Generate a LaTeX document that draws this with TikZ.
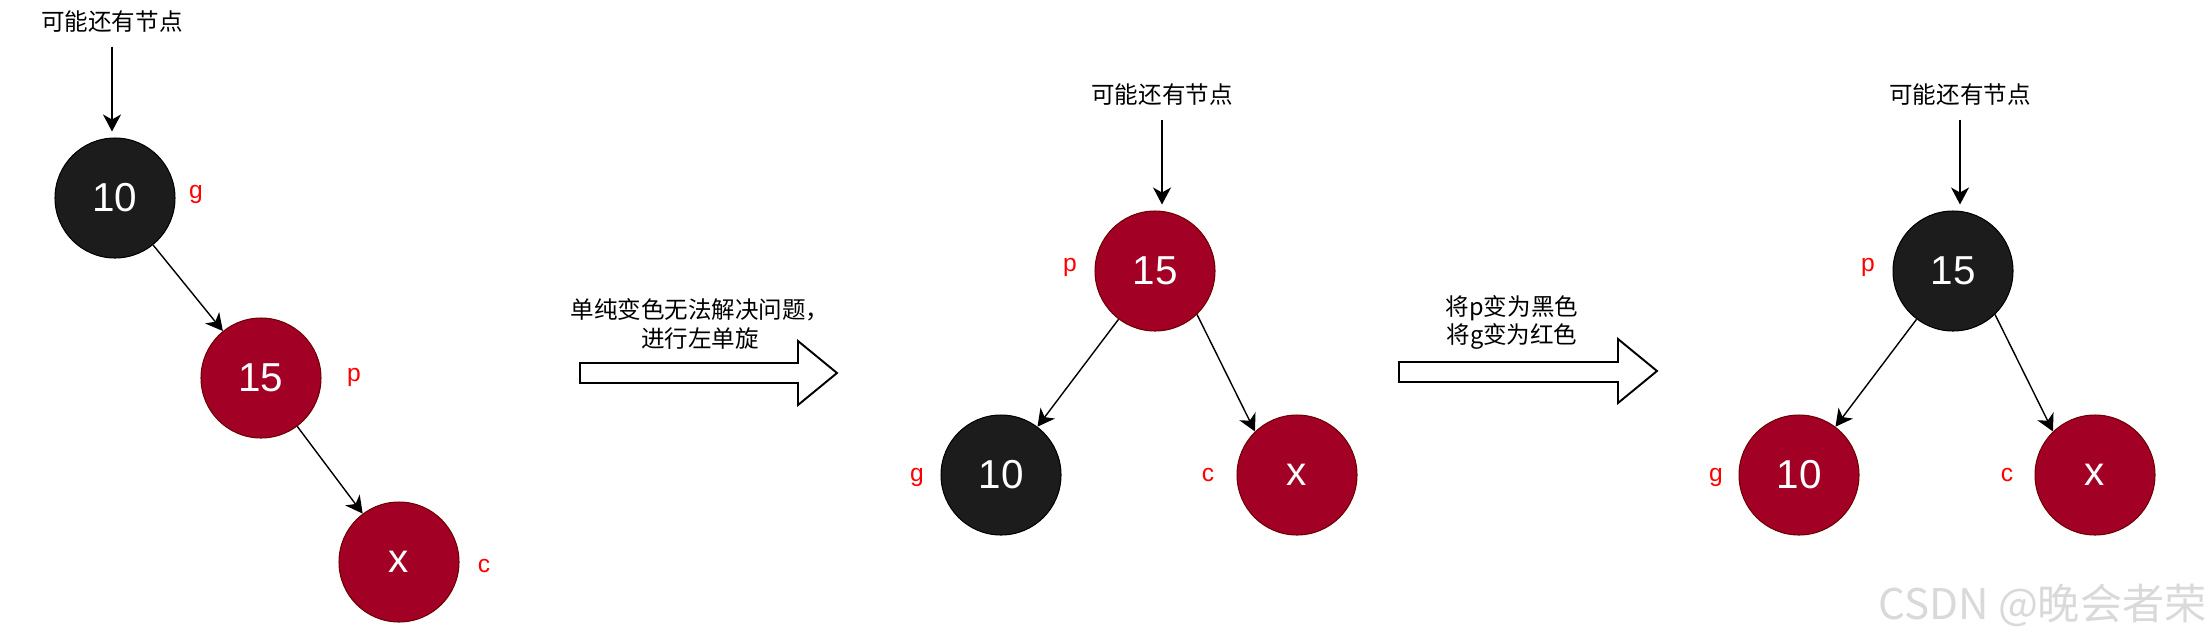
\documentclass[tikz,border=0pt]{standalone}
\usepackage{fontspec}
\setmainfont{Liberation Sans}
\newfontfamily\cjk{Noto Sans CJK SC}
\usetikzlibrary{positioning,arrows.meta}
\definecolor{rbblack}{RGB}{28,28,28}
\definecolor{rbred}{HTML}{A20025}
\definecolor{rbredline}{HTML}{6F0000}
\tikzset{
  rbnode/.style={circle,minimum size=2.4cm,inner sep=0pt,text=white,
                 font=\fontsize{23}{26}\selectfont,line width=0.6pt},
  blknode/.style={rbnode,fill=rbblack,draw=black},
  rednode/.style={rbnode,fill=rbred,draw=rbredline},
  tag/.style={text=red,font=\fontsize{14}{16}\selectfont},
  note/.style={font=\cjk\fontsize{13.4}{16}\selectfont,align=center,inner sep=2pt},
  arr/.style={-{Stealth[length=0.34cm,width=0.36cm,inset=0.1cm]},line width=0.8pt},
  fatarr/.style={draw,fill=white,line width=1.1pt,line join=miter},
}
\begin{document}
\begin{tikzpicture}[x=0.02cm,y=-0.02cm]
    \useasboundingbox (0,0) rectangle (2212,640);
    % before: g -> p -> c in a line
    \node[note] (t1) at (112,22) {可能还有节点};
    \node[blknode] (g1) at (115,198) {10};
    \node[rednode] (p1) at (261,378) {15};
    \node[rednode] (c1) at (399,562) {x};
    \node[tag] (g1tag) at (196,194) {g};
    \node[tag] (p1tag) at (354,377) {p};
    \node[tag] (c1tag) at (484,566) {c};
    \draw[arr,shorten <=0.2cm,shorten >=0.12cm] (t1) -- (t1 |- g1.north);
    \draw[arr] (g1) -- (p1);
    \draw[arr] (p1) -- (c1);
    % first step
    \node[note] (step1) at (700,324) {单纯变色无法解决问题，\\进行左单旋};
    \draw[fatarr] (580,363) -- (798,363) -- (798,341) -- (837,373)
                  -- (798,405) -- (798,383) -- (580,383) -- cycle;
    % after rotation
    \node[note] (t2) at (1162,95) {可能还有节点};
    \node[rednode] (p2) at (1155,271) {15};
    \node[blknode] (g2) at (1001,475) {10};
    \node[rednode] (c2) at (1297,475) {x};
    \node[tag] (p2tag) at (1070,267) {p};
    \node[tag] (g2tag) at (917,477) {g};
    \node[tag] (c2tag) at (1208,475) {c};
    \draw[arr,shorten <=0.2cm,shorten >=0.12cm] (t2) -- (t2 |- p2.north);
    \draw[arr] (p2) -- (g2);
    \draw[arr] (p2.-46) -- (c2.134);
    % second step
    \node[note] (step2) at (1512,322) {将p变为黑色\\将g变为红色};
    \draw[fatarr] (1399,362) -- (1618,362) -- (1618,339) -- (1657,371)
                  -- (1618,403) -- (1618,382) -- (1399,382) -- cycle;
    % after recolouring
    \node[note] (t3) at (1960,95) {可能还有节点};
    \node[blknode] (p3) at (1953,271) {15};
    \node[rednode] (g3) at (1799,475) {10};
    \node[rednode] (c3) at (2095,475) {x};
    \node[tag] (p3tag) at (1868,267) {p};
    \node[tag] (g3tag) at (1716,477) {g};
    \node[tag] (c3tag) at (2007,475) {c};
    \draw[arr,shorten <=0.2cm,shorten >=0.12cm] (t3) -- (t3 |- p3.north);
    \draw[arr] (p3) -- (g3);
    \draw[arr] (p3.-46) -- (c3.134);
    \node[font=\cjk\fontsize{24}{28}\selectfont,text=gray!30,anchor=east,inner sep=0pt]
        (mark) at (2207,605) {CSDN @晚会者荣};
\end{tikzpicture}
\end{document}
